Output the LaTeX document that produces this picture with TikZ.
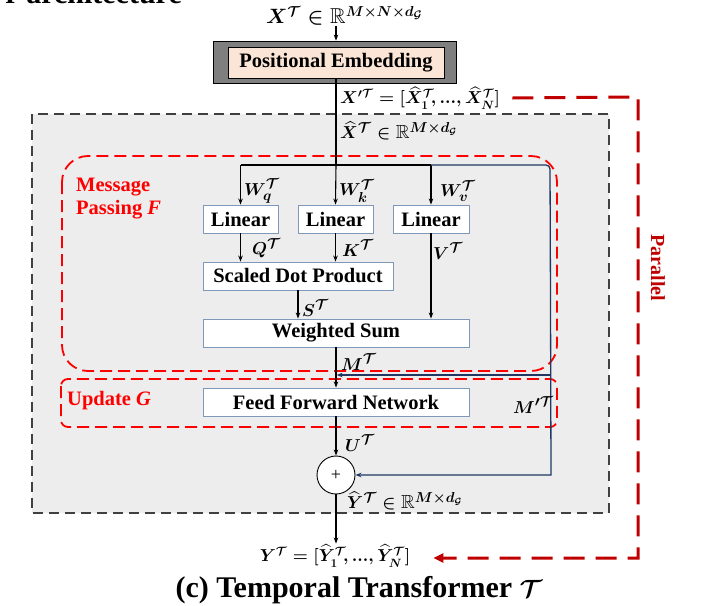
\documentclass[tikz,border=0pt]{standalone}
\usepackage{amsmath,amssymb}
\usepackage{fontspec}
\setmainfont{Liberation Serif}
\usetikzlibrary{arrows.meta}
\definecolor{boxblue}{RGB}{126,152,185}
\definecolor{navyc}{RGB}{31,56,100}
\definecolor{bggray}{RGB}{237,237,237}
\definecolor{dashgray}{RGB}{64,64,64}
\definecolor{darkredc}{RGB}{192,0,0}
\definecolor{peach}{RGB}{251,229,214}
\definecolor{outergray}{RGB}{127,127,127}
\begin{document}
\begin{tikzpicture}[x=1pt,y=-1pt,
  box/.style={draw=boxblue, line width=0.9pt, fill=white, minimum height=28pt, inner sep=0pt,
    font=\fontsize{20.5}{22}\selectfont\bfseries},
  arr/.style={line width=1.1pt, -{Stealth[length=6pt,width=4.5pt]}},
  blk/.style={line width=1.1pt},
  navyl/.style={navyc, line width=1.3pt},
  reddash/.style={draw=red, line width=1.8pt, dash pattern=on 12pt off 6pt},
  lab/.style={inner sep=0pt, anchor=west, font=\fontsize{19}{21}\selectfont\boldmath},
  biglab/.style={inner sep=0pt, anchor=west, font=\fontsize{21.5}{23}\selectfont\boldmath},
  redtxt/.style={red, font=\fontsize{20.5}{22}\selectfont\bfseries, inner sep=0pt}
]
\useasboundingbox (0,0) rectangle (716,606);

% cut-off heading
\node[anchor=base east, inner sep=0pt, font=\fontsize{30}{36}\selectfont\bfseries] (head) at (182,3) {r architecture};

% background dashed box
\draw[fill=bggray, draw=dashgray, line width=2pt, dash pattern=on 10pt off 6pt] (32,114) rectangle (609,513);

% red dashed groups
\draw[reddash, rounded corners=26pt] (62,156) rectangle (557,371);
\draw[reddash, rounded corners=7pt] (61,379) rectangle (557,427);

\node[redtxt, anchor=north west, align=left] (mp) at (76,178) {Message\\[1pt]Passing \textit{F}};
\node[redtxt, anchor=west] (upd) at (67,401) {Update \textit{G}};

% input label
\node[biglab] (xin) at (266,16) {$X^{\mathcal{T}}\in\mathbb{R}^{M\times N\times d_{\mathcal{G}}}$};

% positional embedding
\node[draw=black, fill=outergray, line width=0.8pt, minimum width=243pt, minimum height=42pt, inner sep=0pt] (peo) at (334.5,62) {};
\node[draw=black, fill=peach, line width=0.8pt, minimum width=216pt, minimum height=31pt, inner sep=0pt,
  font=\fontsize{20.5}{22}\selectfont\bfseries] (pe) at (336,62.5) {Positional Embedding};
\draw[arr] (xin.south -| pe.north) -- (peo.north -| pe.north);

\node[lab, font=\fontsize{18.5}{20}\selectfont\boldmath] (xp) at (340,98) {$X'^{\mathcal{T}}=[\widehat{X}_1^{\mathcal{T}}\!,\mathinner{\ldotp\!\ldotp\!\ldotp}\!,\widehat{X}_N^{\mathcal{T}}]$};
\node[lab] (xh) at (340,131) {$\widehat{X}^{\mathcal{T}}\in\mathbb{R}^{M\times d_{\mathcal{G}}}$};

% boxes
\node[box, minimum width=75pt] (l1) at (240.5,219) {Linear};
\node[box, minimum width=75pt] (l2) at (335.5,219) {Linear};
\node[box, minimum width=76pt] (l3) at (431,219) {Linear};
\node[box, minimum width=190pt] (sdp) at (298,276) {Scaled Dot Product};
\node[box, minimum width=266pt] (ws) at (336,333) {Weighted Sum};
\node[box, minimum width=266pt] (ffn) at (336,402) {Feed Forward Network};
\node[circle, draw=black, line width=0.9pt, fill=white, minimum size=38pt, inner sep=0pt,
  font=\fontsize{18}{20}\selectfont] (plus) at (336,475) {+};

\node[inner sep=1pt, font=\fontsize{18}{20}\selectfont\boldmath] (yout) at (335,556) {$Y^{\mathcal{T}}=[\widehat{Y}_1^{\mathcal{T}}\!,\mathinner{\ldotp\!\ldotp\!\ldotp}\!,\widehat{Y}_N^{\mathcal{T}}]$};

% coordinates
\coordinate (br) at (336,165);
\coordinate (nr1) at (550,165);
\coordinate (nr2) at (551,475);
\coordinate (nb) at (550.5,375);
\coordinate (mj) at (336.6,375);

% trunk and branches
\draw[blk] (pe.south) -- (br);
\draw[blk] (l1.north |- br) -- (l3.north |- br);
\draw[arr] (l1.north |- br) -- (l1.north);
\draw[arr] (br) -- (l2.north);
\draw[arr] (l3.north |- br) -- (l3.north);

% navy residual
\draw[navyl, rounded corners=4pt] (l3.north |- br) -- (nr1) -- (550.5,300);
\draw[navyl, -{Stealth[length=6pt,width=4.5pt]}] (550.5,300) -- (nr2) -- (plus.east);
\draw[navyl, -{Stealth[length=6pt,width=4.5pt]}] (nb) -- (mj);

% inner arrows
\draw[arr] (l1.south) -- (l1.south |- sdp.north);
\draw[arr] (l2.south) -- (l2.south |- sdp.north);
\draw[arr] (l3.south) -- (l3.south |- ws.north);
\draw[arr] (sdp.south) -- (sdp.south |- ws.north);
\draw[arr] (ws.south) -- (ffn.north);
\draw[arr] (ffn.south) -- (plus.north);
\draw[arr] (plus.south) -- (plus.south |- yout.north);

% labels
\node[lab] (wq) at (244,191) {$W_q^{\mathcal{T}}$};
\node[lab] (wk) at (339,191) {$W_k^{\mathcal{T}}$};
\node[lab] (wv) at (440,191) {$W_v^{\mathcal{T}}$};
\node[lab] (q) at (252,248) {$Q^{\mathcal{T}}$};
\node[lab] (k) at (342,248) {$K^{\mathcal{T}}$};
\node[lab] (v) at (433,251) {$V^{\mathcal{T}}$};
\node[lab] (s) at (302,308) {$S^{\mathcal{T}}$};
\node[lab] (m) at (341,362) {$M^{\mathcal{T}}$};
\node[lab] (mp2) at (513,405) {$M'^{\mathcal{T}}$};
\node[lab] (u) at (345,443) {$U^{\mathcal{T}}$};
\node[lab] (yh) at (347,501) {$\widehat{Y}^{\mathcal{T}}\in\mathbb{R}^{M\times d_{\mathcal{G}}}$};

% parallel
\coordinate (p1) at (638,97);
\coordinate (p2) at (638,558);
\draw[darkredc, line width=3pt, dash pattern=on 21pt off 11pt, -{Triangle[length=10pt,width=9pt]}]
  ([xshift=12pt]xp.east) -- (p1) -- (p2) -- ([xshift=22pt]yout.east |- p2);
\node[rotate=-90, darkredc, font=\fontsize{20}{22}\selectfont\bfseries, inner sep=0pt] (par) at (658,268) {Parallel};

% title
\node[anchor=base, inner sep=0pt, font=\fontsize{30}{36}\selectfont\bfseries\boldmath] (title) at (359,597) {(c) Temporal Transformer $\mathcal{T}$};
\end{tikzpicture}
\end{document}
